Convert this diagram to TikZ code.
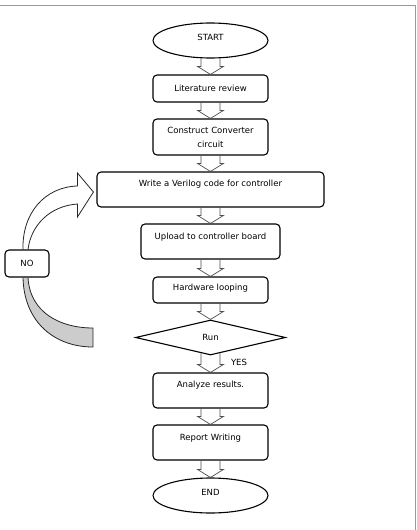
\documentclass[tikz,border=0pt]{standalone}
\usepackage{fontspec}
\setmainfont{DejaVu Sans}
\usetikzlibrary{calc,shapes.geometric,backgrounds}

\tikzset{
    stepbox/.style={draw, rounded corners=4pt, line width=1.1pt, fill=white,
        minimum width=115pt, minimum height=35pt, align=center,
        font=\fontsize{8.5}{14}\selectfont},
    endbox/.style={draw, ellipse, line width=1.1pt, fill=white,
        minimum width=115pt, minimum height=35pt, inner sep=0pt,
        font=\fontsize{8.5}{10}\selectfont},
    decide/.style={draw, diamond, line width=1.1pt, inner sep=0pt,
        minimum width=150pt, minimum height=35pt,
        font=\fontsize{8.5}{10}\selectfont},
    flow/.style={draw=black!70, line width=0.7pt},
    loopband/.style={draw=black!85, line width=0.8pt},
}

% hollow block arrow from the bottom of #2 to the top of #3
\newcommand{\blockarrow}[3][0]{%
    \draw[flow] ($(#2.south)+(-9.5,-#1)$) -- ($(#3.north)+(-9.5,-8)$)
        -- ($(#3.north)+(-13,-8)$) -- (#3.north) -- ($(#3.north)+(13,-8)$)
        -- ($(#3.north)+(9.5,-8)$) -- ($(#2.south)+(9.5,-#1)$);}

\begin{document}
\begin{tikzpicture}[x=1pt,y=-1pt]
    \useasboundingbox (0,0) rectangle (417,530);
    % frame
    \draw[gray!80, line width=1.5pt] (0,5.5) -- (415.5,5.5) -- (415.5,530);

    % main column
    \node[endbox, text depth=6.5pt] (start) at (210.5,40.5) {START};
    \node[stepbox, minimum height=27pt] (lit) at (210.5,88.5) {Literature review};
    \node[stepbox, minimum height=36pt] (conv) at (210.5,137) {Construct Converter\\circuit};
    \node[stepbox, minimum width=227pt, text depth=12pt] (verilog) at (210.5,189.5) {Write a Verilog code for controller};
    \node[stepbox, minimum width=139pt, text depth=9.5pt] (upload) at (210.5,241.5) {Upload to controller board};
    \node[stepbox, minimum height=26pt, text depth=4.5pt] (hw) at (210.5,290) {Hardware looping};
    \node[decide] (run) at (210.5,337.5) {Run};
    \node[stepbox, text depth=11.5pt] (ana) at (210.5,390.5) {Analyze results.};
    \node[stepbox, text depth=9.5pt] (rep) at (210.5,442.5) {Report Writing};
    \node[endbox, text depth=6pt] (end) at (210.5,495.5) {END};
    \node[font=\fontsize{8.5}{10}\selectfont] (yes) at (239,362) {YES};

    % loop back
    \node[stepbox, minimum width=44pt, minimum height=27pt] (no) at (27,263.5) {NO};
    \coordinate (back) at (93,337.5);

    \begin{scope}[on background layer]
        \draw[loopband, fill=white] ($(no.north)+(-4,0)$)
            .. controls ($(no.north)+(-5,-36)$) and ($(verilog.west)+(-52,-2.5)$) .. ($(verilog.west)+(-19,-3.5)$)
            -- ($(verilog.west)+(-19,-16.5)$) -- ($(verilog.west)+(-3,2.5)$)
            -- ($(verilog.west)+(-19,27.5)$) -- ($(verilog.west)+(-19,14.5)$)
            .. controls ($(verilog.west)+(-47,16.5)$) and ($(no.north)+(4,-24)$) .. ($(no.north)+(1,0)$);
        \draw[loopband, fill=gray!40] ($(no.south)+(-4,0)$)
            .. controls ($(no.south)+(-3,45)$) and ($(back)+(-38,9.5)$) .. ($(back)+(0,9.5)$)
            -- ($(back)+(0,-9.5)$)
            .. controls ($(back)+(-33,-9.5)$) and ($(no.south)+(3,35)$) .. ($(no.south)+(1,0)$);
    \end{scope}

    % block arrows
    \blockarrow{start}{lit}
    \blockarrow{lit}{conv}
    \blockarrow{conv}{verilog}
    \blockarrow{verilog}{upload}
    \blockarrow{upload}{hw}
    \blockarrow{hw}{run}
    \blockarrow[2.2]{run}{ana}
    \blockarrow{ana}{rep}
    \blockarrow{rep}{end}
\end{tikzpicture}
\end{document}
